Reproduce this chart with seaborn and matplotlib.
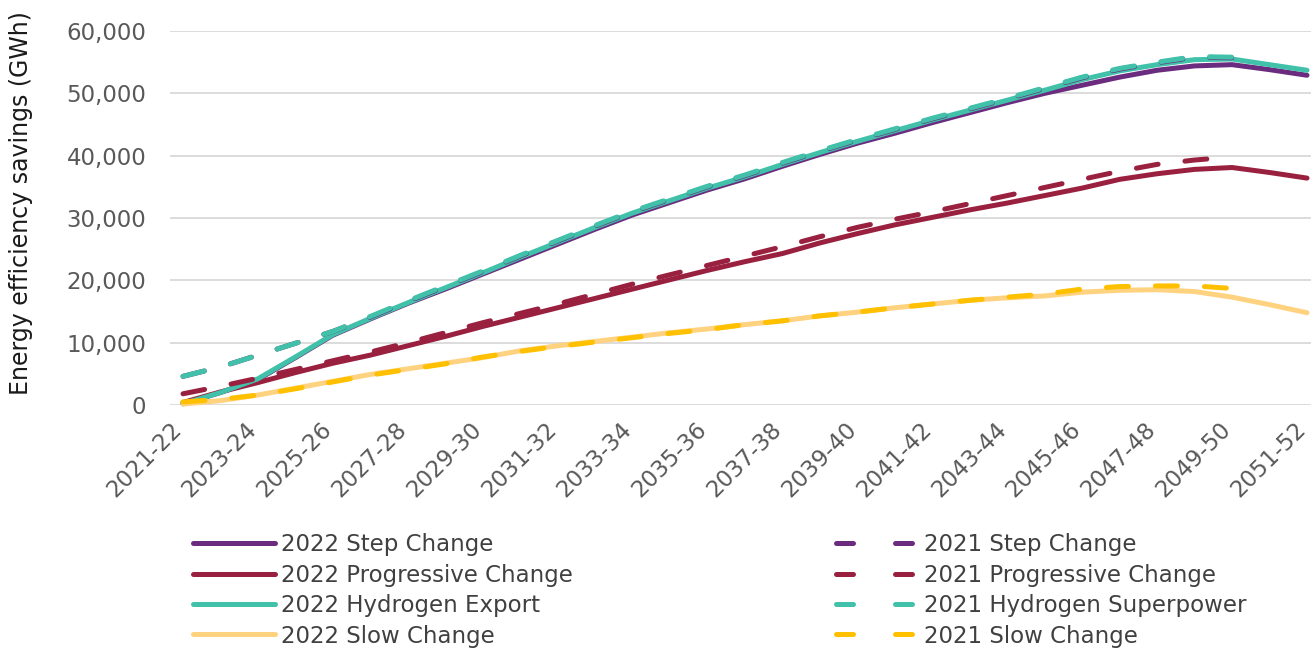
import matplotlib
matplotlib.use("Agg")
import matplotlib.pyplot as plt
import seaborn as sns
import pandas as pd
from matplotlib.ticker import FuncFormatter
from matplotlib.lines import Line2D

# ---------------- data ----------------
years = ["2021-22", "2022-23", "2023-24", "2024-25", "2025-26", "2026-27", "2027-28",
         "2028-29", "2029-30", "2030-31", "2031-32", "2032-33", "2033-34", "2034-35",
         "2035-36", "2036-37", "2037-38", "2038-39", "2039-40", "2040-41", "2041-42",
         "2042-43", "2043-44", "2044-45", "2045-46", "2046-47", "2047-48", "2048-49",
         "2049-50", "2050-51", "2051-52"]

step_2022 = [200, 2000, 4100, 7600, 11200, 13800, 16300, 18600, 21000, 23400, 25800,
             28200, 30500, 32500, 34500, 36300, 38300, 40200, 42000, 43600, 45300,
             46900, 48500, 50000, 51300, 52600, 53700, 54400, 54600, 53800, 52900]
progressive_2022 = [400, 2100, 3600, 5200, 6700, 8000, 9500, 11000, 12600, 14100, 15600,
                    17100, 18600, 20100, 21600, 23000, 24300, 26000, 27500, 28900, 30100,
                    31300, 32400, 33600, 34800, 36200, 37100, 37800, 38100, 37300, 36400]
hydrogen_2022 = [200, 2000, 4200, 7700, 11300, 13900, 16400, 18800, 21200, 23700, 26100,
                 28500, 30800, 32800, 34800, 36600, 38600, 40500, 42300, 44000, 45700,
                 47300, 48900, 50500, 52200, 53600, 54600, 55400, 55500, 54600, 53700]
slow_2022 = [150, 700, 1600, 2700, 3800, 4900, 5800, 6700, 7600, 8700, 9500,
             10200, 10900, 11600, 12200, 12900, 13500, 14300, 14900, 15600, 16200,
             16800, 17200, 17500, 18100, 18400, 18500, 18200, 17300, 16100, 14800]

step_2021 = [4600, 6100, 8000, 9900, 11800, 14100, 16600, 19000, 21400, 23900, 26300,
             28700, 31000, 33000, 35000, 36800, 38800, 40700, 42500, 44200, 45900,
             47500, 49100, 50800, 52500, 53900, 54900, 55800, 55700]
progressive_2021 = [1800, 3000, 4300, 5700, 7100, 8500, 10000, 11600, 13200, 14700, 16200,
                    17800, 19400, 20900, 22400, 23900, 25400, 27000, 28500, 29800, 31000,
                    32300, 33600, 34900, 36200, 37500, 38600, 39300, 39800]
hydrogen_2021 = [4600, 6100, 8000, 9900, 11800, 14200, 16700, 19100, 21500, 24000, 26400,
                 28800, 31100, 33100, 35100, 36900, 38900, 40800, 42600, 44300, 46000,
                 47600, 49200, 50900, 52600, 54000, 55000, 55900, 55800]
slow_2021 = [500, 900, 1600, 2600, 3700, 4800, 5700, 6600, 7700, 8600, 9400,
             10100, 10800, 11500, 12100, 12900, 13500, 14300, 14900, 15600, 16200,
             16800, 17300, 17800, 18600, 19000, 19100, 19100, 18700]

series_names = ["2022 Step Change", "2022 Progressive Change", "2022 Hydrogen Export",
                "2022 Slow Change", "2021 Step Change", "2021 Progressive Change",
                "2021 Hydrogen Superpower", "2021 Slow Change"]
series_values = [step_2022, progressive_2022, hydrogen_2022, slow_2022,
                 step_2021, progressive_2021, hydrogen_2021, slow_2021]
series_colors = ["#6B2C80", "#99203F", "#41C1AA", "#FFD27F",
                 "#6B2C80", "#99203F", "#41C1AA", "#FFC000"]
series_dashed = [False, False, False, False, True, True, True, True]

# ---------------- style ----------------
sns.set_theme(style="white")
plt.rcParams["font.family"] = ["DejaVu Sans"]

W, H = 1311, 650
fig = plt.figure(figsize=(W / 100, H / 100), dpi=100)
ax = fig.add_axes([170 / W, (H - 405) / H, (W - 170) / W, 374 / H])

LW = 3.6
for name, vals, col, dashed in zip(series_names, series_values, series_colors, series_dashed):
    df = pd.DataFrame({"year": years[:len(vals)], "value": vals})
    sns.lineplot(data=df, x="year", y="value", ax=ax, color=col, lw=LW,
                 label=name, errorbar=None, sort=False)
    line = ax.lines[-1]
    line.set_solid_capstyle("round")
    line.set_dash_capstyle("round")
    line.set_solid_joinstyle("round")
    line.set_clip_on(False)
    if dashed:
        line.set_dashes([4.4, 5.4])

if ax.get_legend() is not None:
    ax.get_legend().remove()

ax.set_xlim(-0.347, 30.107)
ax.set_ylim(0, 60000)
ax.set_yticks(range(0, 60001, 10000))
ax.yaxis.set_major_formatter(FuncFormatter(lambda v, p: f"{int(v):,}"))
ax.set_xticks(range(0, len(years), 2))
ax.set_xticklabels(years[::2])

for s in ax.spines.values():
    s.set_visible(False)
ax.yaxis.grid(True, color="#D9D9D9", lw=1.3)
ax.xaxis.grid(False)
ax.set_axisbelow(True)

ax.tick_params(axis="y", length=0, pad=17, labelsize=16.5, labelcolor="#595959")
ax.tick_params(axis="x", length=0, pad=18.5, labelsize=16.5, labelcolor="#595959")
for lab in ax.get_xticklabels():
    lab.set_rotation(45)
    lab.set_ha("right")
    lab.set_va("baseline")
    lab.set_rotation_mode("anchor")

ax.set_xlabel("")
ax.set_ylabel("Energy efficiency savings (GWh)", fontsize=17, color="#1A1A1A")
ax.yaxis.set_label_coords((33 - 170) / 1141, (405 - 203) / 374)

# ---------------- legend (two columns) ----------------
fs = 16.5
fs_px = fs * 100 / 72
proxies = []
for col, dashed in zip(series_colors, series_dashed):
    h = Line2D([], [], color=col, lw=LW, solid_capstyle="round", dash_capstyle="round")
    if dashed:
        h.set_dashes([3.4, 8.4])
    proxies.append(h)

common = dict(frameon=False, borderpad=0, borderaxespad=0, fontsize=fs,
              handlelength=82 / fs_px, handletextpad=6 / fs_px, labelspacing=0.32,
              loc="center left", labelcolor="#404040")
leg1 = fig.legend(handles=proxies[:4], labels=series_names[:4],
                  bbox_to_anchor=(193 / W, 1 - 590.5 / H), **common)
leg2 = fig.legend(handles=proxies[4:], labels=series_names[4:],
                  bbox_to_anchor=(836 / W, 1 - 590.5 / H), **common)

fig.savefig("out.png", dpi=100)
